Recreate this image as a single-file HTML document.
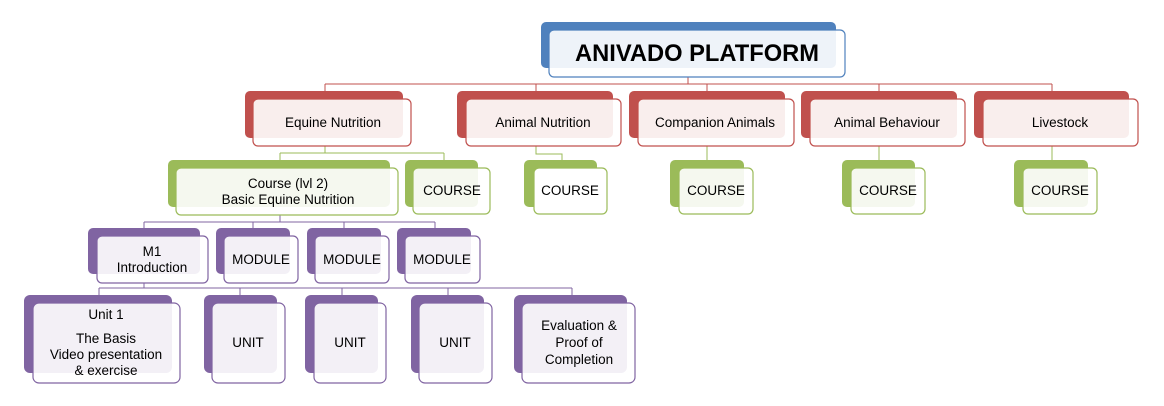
<!DOCTYPE html>
<html><head><meta charset="utf-8"><style>
html,body{margin:0;padding:0;background:#fff;width:1164px;height:406px;overflow:hidden}
text{font-family:"Liberation Sans",sans-serif;font-size:13.5px;fill:#000;text-anchor:middle}
</style></head><body>
<svg width="1164" height="406" xmlns="http://www.w3.org/2000/svg">
<g fill="none" stroke-width="1">
<!-- red connectors -->
<g stroke="#c0504d">
<path d="M688 77V84M325 84H1052M325 84V91M536 84V91M707 84V91M879 84V91M1052 84V91"/>
</g>
<!-- green -->
<g stroke="#9bbb59">
<path d="M325 146V153M280 153H444M280 153V160M444 153V160"/>
<path d="M536 146V154H562V160"/>
<path d="M707 146V160M879 146V160M1052 146V160"/>
</g>
<!-- purple -->
<g stroke="#8064a2">
<path d="M280 215V222M144 222H435M144 222V228M253 222V228M344 222V228M435 222V228"/>
<path d="M144 283V288M99 288H572M99 288V295M240 288V295M342 288V295M448 288V295M572 288V295"/>
</g>
</g>
<g stroke-width="1.2">
<!-- top -->
<rect x="541" y="22" width="295" height="46" rx="5" fill="#4f81bd"/>
<rect x="549" y="30" width="296" height="47" rx="5" fill="rgba(255,255,255,0.9)" stroke="#4f81bd"/>
<!-- red -->
<g fill="#c0504d">
<rect x="245" y="91" width="158" height="47" rx="5"/>
<rect x="457" y="91" width="156" height="47" rx="5"/>
<rect x="629" y="91" width="156" height="47" rx="5"/>
<rect x="801" y="91" width="156" height="47" rx="5"/>
<rect x="974" y="91" width="155" height="47" rx="5"/>
</g>
<g fill="rgba(255,255,255,0.9)" stroke="#c0504d">
<rect x="253" y="99" width="158" height="47" rx="5"/>
<rect x="466" y="99" width="155" height="47" rx="5"/>
<rect x="638" y="99" width="156" height="47" rx="5"/>
<rect x="810" y="99" width="155" height="47" rx="5"/>
<rect x="983" y="99" width="155" height="47" rx="5"/>
</g>
<!-- green -->
<g fill="#9bbb59">
<rect x="168" y="160" width="222" height="47" rx="5"/>
<rect x="405" y="160" width="73" height="47" rx="5"/>
<rect x="524" y="160" width="73" height="47" rx="5"/>
<rect x="670" y="160" width="74" height="47" rx="5"/>
<rect x="842" y="160" width="73" height="47" rx="5"/>
<rect x="1014" y="160" width="74" height="47" rx="5"/>
</g>
<g fill="rgba(255,255,255,0.9)" stroke="#9bbb59">
<rect x="176" y="168" width="222" height="47" rx="5"/>
<rect x="413" y="168" width="77" height="46" rx="5"/>
<rect x="534" y="168" width="73" height="46" rx="5" fill="#fff"/>
<rect x="679" y="168" width="74" height="46" rx="5"/>
<rect x="851" y="168" width="74" height="46" rx="5"/>
<rect x="1023" y="168" width="74" height="46" rx="5"/>
</g>
<!-- purple modules -->
<g fill="#8064a2">
<rect x="88" y="228" width="112" height="46" rx="5"/>
<rect x="216" y="228" width="74" height="46" rx="5"/>
<rect x="307" y="228" width="74" height="46" rx="5"/>
<rect x="397" y="228" width="74" height="46" rx="5"/>
<rect x="24" y="295" width="148" height="78" rx="6"/>
<rect x="204" y="295" width="73" height="78" rx="6"/>
<rect x="305" y="295" width="73" height="78" rx="6"/>
<rect x="411" y="295" width="73" height="78" rx="6"/>
<rect x="514" y="295" width="113" height="78" rx="6"/>
</g>
<g fill="rgba(255,255,255,0.9)" stroke="#8064a2">
<rect x="97" y="236" width="111" height="47" rx="5"/>
<rect x="224" y="236" width="74" height="47" rx="5"/>
<rect x="315" y="236" width="74" height="47" rx="5"/>
<rect x="405" y="236" width="75" height="47" rx="5"/>
<rect x="33" y="303" width="147" height="80" rx="6"/>
<rect x="212" y="303" width="73" height="80" rx="6"/>
<rect x="314" y="303" width="72" height="80" rx="6"/>
<rect x="419" y="303" width="73" height="80" rx="6"/>
<rect x="522" y="303" width="113" height="80" rx="6"/>
</g>
</g>
<text x="697" y="61" style="font-size:24px;font-weight:bold" textLength="244" lengthAdjust="spacingAndGlyphs">ANIVADO PLATFORM</text>
<text x="333" y="127">Equine Nutrition</text>
<text x="543" y="127">Animal Nutrition</text>
<text x="715" y="127">Companion Animals</text>
<text x="887" y="127">Animal Behaviour</text>
<text x="1060" y="127">Livestock</text>
<text x="288" y="188">Course (lvl 2)</text>
<text x="288" y="204">Basic Equine Nutrition</text>
<text x="452" y="195">COURSE</text>
<text x="570" y="195">COURSE</text>
<text x="716" y="195">COURSE</text>
<text x="888" y="195">COURSE</text>
<text x="1060" y="195">COURSE</text>
<text x="152" y="256">M1</text>
<text x="152" y="272">Introduction</text>
<text x="261" y="264">MODULE</text>
<text x="352" y="264">MODULE</text>
<text x="442" y="264">MODULE</text>
<text x="106" y="319">Unit 1</text>
<text x="106" y="343">The Basis</text>
<text x="106" y="359">Video presentation</text>
<text x="106" y="375">&amp; exercise</text>
<text x="248" y="347">UNIT</text>
<text x="350" y="347">UNIT</text>
<text x="455" y="347">UNIT</text>
<text x="579" y="330">Evaluation &amp;</text>
<text x="579" y="347">Proof of</text>
<text x="579" y="364">Completion</text>
</svg>
</body></html>
